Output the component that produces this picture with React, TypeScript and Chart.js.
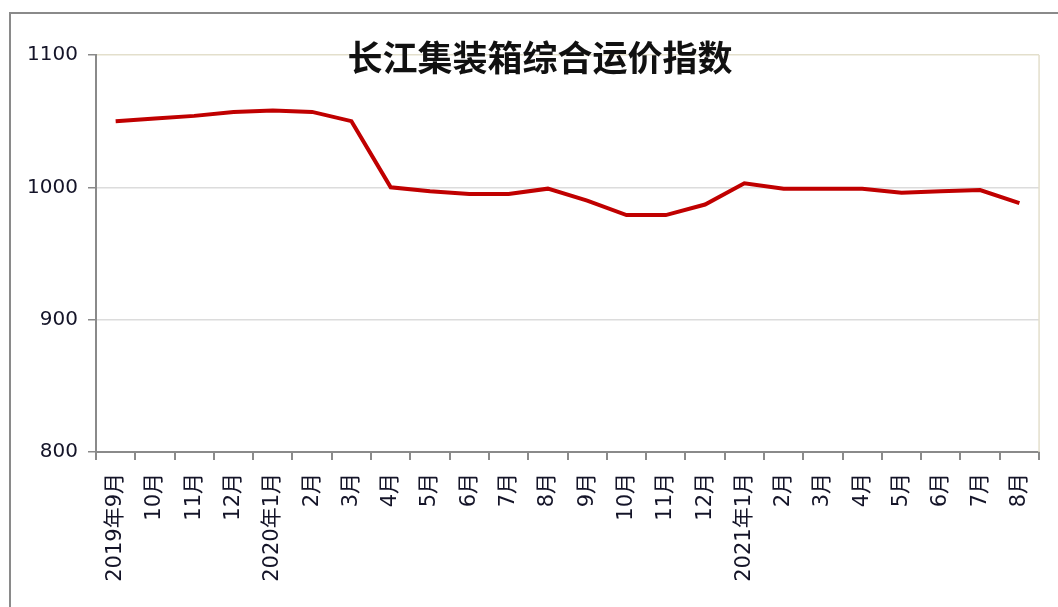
import React, { useEffect, useRef } from "react";
import { Chart, registerables } from "chart.js";

Chart.register(...registerables);

const TITLE = "长江集装箱综合运价指数";
const CATEGORIES = [
  "2019年9月", "10月", "11月", "12月", "2020年1月", "2月", "3月", "4月",
  "5月", "6月", "7月", "8月", "9月", "10月", "11月", "12月",
  "2021年1月", "2月", "3月", "4月", "5月", "6月", "7月", "8月",
];
const INDEX_VALUES = [
  1050, 1052, 1054, 1057, 1058, 1057, 1050, 1000,
  997, 995, 995, 999, 990, 979, 979, 987,
  1003, 999, 999, 999, 996, 997, 998, 988,
];
const Y_MIN = 800;
const Y_MAX = 1100;
const Y_STEP = 100;

const W = 1058;
const H = 607;

const decorPlugin = {
  id: "decor",
  beforeDraw(chart: any) {
    const ctx = chart.ctx;
    ctx.save();
    ctx.fillStyle = "#ffffff";
    ctx.fillRect(0, 0, chart.width, chart.height);
    ctx.strokeStyle = "#8a8a8a";
    ctx.lineWidth = 2;
    ctx.beginPath();
    ctx.moveTo(10, chart.height + 5);
    ctx.lineTo(10, 13);
    ctx.lineTo(chart.width + 5, 13);
    ctx.stroke();
    ctx.restore();
  },
  afterDraw(chart: any) {
    const ctx = chart.ctx;
    const a = chart.chartArea;
    ctx.save();
    ctx.strokeStyle = "#e3dfcc";
    ctx.lineWidth = 1.5;
    ctx.beginPath();
    ctx.moveTo(a.right, a.top);
    ctx.lineTo(a.right, a.bottom);
    ctx.stroke();
    ctx.fillStyle = "#111111";
    ctx.font = "bold 35px 'Noto Sans CJK SC', sans-serif";
    ctx.textAlign = "center";
    ctx.textBaseline = "middle";
    ctx.fillText(TITLE, 540, 58);
    ctx.restore();
  },
};

export default function App() {
  const ref = useRef<HTMLCanvasElement | null>(null);

  useEffect(() => {
    if (!ref.current) return;
    const chart = new Chart(ref.current, {
      type: "line",
      data: {
        labels: CATEGORIES,
        datasets: [
          {
            data: INDEX_VALUES,
            borderColor: "#c00000",
            borderWidth: 4,
            pointRadius: 0,
            pointHoverRadius: 0,
            tension: 0,
            fill: false,
          },
        ],
      },
      options: {
        responsive: false,
        animation: false,
        devicePixelRatio: 1,
        layout: { padding: { left: 0, top: 55, right: 18, bottom: 0 } },
        plugins: {
          legend: { display: false },
          tooltip: { enabled: false },
          title: { display: false },
        },
        scales: {
          x: {
            type: "category",
            offset: true,
            afterFit: (s: any) => {
              s.height = H - 452;
            },
            grid: {
              offset: true,
              drawOnChartArea: false,
              drawTicks: true,
              tickLength: 8,
              color: "#8a8a8a",
              lineWidth: 2,
            },
            border: { display: true, color: "#8a8a8a", width: 2 },
            ticks: {
              autoSkip: false,
              maxRotation: 90,
              minRotation: 90,
              padding: 13,
              color: "#141428",
              font: { family: "'DejaVu Sans', 'Noto Sans CJK SC', sans-serif", size: 21 },
            },
          },
          y: {
            min: Y_MIN,
            max: Y_MAX,
            afterFit: (s: any) => {
              s.width = 96;
            },
            grid: {
              drawTicks: true,
              tickLength: 8,
              color: (c: any) =>
                c.tick && c.tick.value === Y_MAX ? "#e3dfcc" : "#dcdcdc",
              tickColor: "#8a8a8a",
              lineWidth: 1.5,
            },
            border: { display: true, color: "#8a8a8a", width: 2 },
            ticks: {
              stepSize: Y_STEP,
              padding: 10,
              color: "#141428",
              font: { family: "'DejaVu Sans', sans-serif", size: 20 },
              callback: (v: any) => String(v),
            },
          },
        },
      },
      plugins: [decorPlugin],
    });
    return () => chart.destroy();
  }, []);

  return (
    <div
      style={{
        position: "fixed",
        left: 0,
        top: 0,
        width: W,
        height: H,
        overflow: "hidden",
        background: "#fff",
      }}
    >
      <canvas ref={ref} width={W} height={H} style={{ display: "block", width: W, height: H }} />
    </div>
  );
}
